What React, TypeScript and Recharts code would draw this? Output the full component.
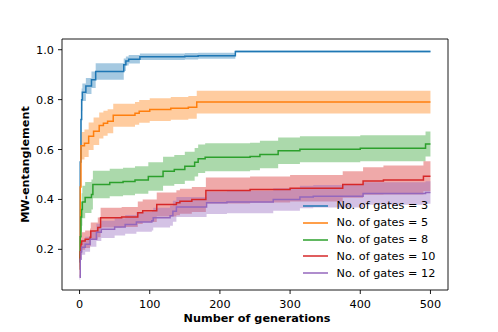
import React from 'react';
import { ComposedChart, Line, Area, XAxis, YAxis, ReferenceLine } from 'recharts';

// values: generation, mean, half-width of the shaded band
const gates3Gen = [0, 1, 2, 3, 4, 9, 17, 23, 63, 66, 70, 86, 150, 169, 222, 500];
const gates3Mean = [0.15, 0.55, 0.72, 0.8, 0.83, 0.855, 0.88, 0.913, 0.94, 0.955, 0.962, 0.972, 0.974, 0.976, 0.993, 0.993];
const gates3Spread = [0.03, 0.05, 0.05, 0.045, 0.035, 0.032, 0.033, 0.033, 0.025, 0.018, 0.017, 0.013, 0.013, 0.012, 0.004, 0.004];

const gates5Gen = [0, 1, 2, 7, 13, 20, 28, 34, 40, 48, 79, 85, 100, 130, 155, 167, 500];
const gates5Mean = [0.12, 0.45, 0.615, 0.625, 0.653, 0.673, 0.696, 0.705, 0.713, 0.737, 0.745, 0.753, 0.76, 0.765, 0.769, 0.79, 0.79];
const gates5Spread = [0.03, 0.05, 0.055, 0.055, 0.055, 0.055, 0.052, 0.05, 0.048, 0.046, 0.046, 0.046, 0.046, 0.046, 0.046, 0.046, 0.046];

const gates8Gen = [0, 1, 2, 3, 4, 8, 17, 19, 43, 62, 79, 98, 119, 135, 150, 164, 169, 179, 243, 257, 283, 314, 400, 493, 500];
const gates8Mean = [0.15, 0.25, 0.33, 0.36, 0.39, 0.408, 0.42, 0.46, 0.468, 0.472, 0.478, 0.492, 0.513, 0.52, 0.533, 0.549, 0.563, 0.569, 0.572, 0.58, 0.595, 0.601, 0.605, 0.622, 0.622];
const gates8Spread = [0.03, 0.05, 0.06, 0.065, 0.065, 0.062, 0.06, 0.055, 0.055, 0.055, 0.055, 0.057, 0.058, 0.058, 0.058, 0.057, 0.057, 0.056, 0.055, 0.055, 0.053, 0.052, 0.052, 0.05, 0.05];

const gates10Gen = [0, 1, 2, 3, 8, 15, 16, 26, 30, 60, 83, 90, 110, 138, 143, 160, 180, 243, 300, 375, 404, 433, 490, 500];
const gates10Mean = [0.15, 0.19, 0.22, 0.233, 0.24, 0.248, 0.273, 0.288, 0.327, 0.33, 0.347, 0.355, 0.38, 0.387, 0.393, 0.4, 0.436, 0.44, 0.445, 0.46, 0.474, 0.478, 0.493, 0.493];
const gates10Spread = [0.02, 0.03, 0.035, 0.035, 0.035, 0.035, 0.035, 0.04, 0.04, 0.04, 0.045, 0.045, 0.048, 0.05, 0.05, 0.05, 0.052, 0.052, 0.053, 0.053, 0.055, 0.058, 0.06, 0.06];

const gates12Gen = [0, 1, 2, 3, 8, 15, 24, 31, 50, 65, 81, 103, 105, 129, 133, 138, 181, 210, 276, 314, 333, 404, 493, 500];
const gates12Mean = [0.088, 0.16, 0.19, 0.208, 0.22, 0.24, 0.268, 0.28, 0.29, 0.3, 0.31, 0.315, 0.327, 0.335, 0.353, 0.37, 0.387, 0.39, 0.4, 0.41, 0.413, 0.424, 0.428, 0.428];
const gates12Spread = [0.01, 0.025, 0.03, 0.03, 0.03, 0.03, 0.035, 0.035, 0.035, 0.038, 0.04, 0.04, 0.04, 0.04, 0.042, 0.04, 0.045, 0.045, 0.045, 0.045, 0.045, 0.045, 0.045, 0.045];

const xTicks = [0, 100, 200, 300, 400, 500];
const yTicks = [0.2, 0.4, 0.6, 0.8, 1.0];

const rows = (gen: number[], mean: number[], spread: number[]) =>
  gen.map((g, i) => ({ gen: g, mean: mean[i], band: [mean[i] - spread[i], mean[i] + spread[i]] }));

const series = [
  { name: 'No. of gates = 3', color: '#1f77b4', data: rows(gates3Gen, gates3Mean, gates3Spread) },
  { name: 'No. of gates = 5', color: '#ff7f0e', data: rows(gates5Gen, gates5Mean, gates5Spread) },
  { name: 'No. of gates = 8', color: '#2ca02c', data: rows(gates8Gen, gates8Mean, gates8Spread) },
  { name: 'No. of gates = 10', color: '#d62728', data: rows(gates10Gen, gates10Mean, gates10Spread) },
  { name: 'No. of gates = 12', color: '#9467bd', data: rows(gates12Gen, gates12Mean, gates12Spread) },
];

const font = '"DejaVu Sans", sans-serif';
const fs = 11.25;
const tickStyle = { fontSize: fs, fill: '#000', fontFamily: font };

export default function App() {
  return (
    <div style={{ position: 'absolute', left: 0, top: 0, width: 498, height: 332, background: '#fff' }}>
      <ComposedChart width={498} height={332} margin={{ top: 39, right: 50, left: 0, bottom: 0 }}>
        <XAxis
          type="number"
          dataKey="gen"
          domain={[-25, 525]}
          ticks={xTicks}
          allowDataOverflow
          height={42}
          tickSize={4}
          tickMargin={6}
          tick={tickStyle}
          axisLine={{ stroke: '#000', strokeWidth: 0.9 }}
          tickLine={{ stroke: '#000', strokeWidth: 0.9 }}
          label={() => (
            <text x={257} y={322.3} textAnchor="middle" fontFamily={font} fontSize={fs} fontWeight="bold" fill="#000">
              Number of generations
            </text>
          )}
        />
        <YAxis
          type="number"
          domain={[0.037, 1.043]}
          ticks={yTicks}
          allowDataOverflow
          width={62}
          tickSize={4}
          tickMargin={4}
          tick={tickStyle}
          tickFormatter={(v: number) => v.toFixed(1)}
          axisLine={{ stroke: '#000', strokeWidth: 0.9 }}
          tickLine={{ stroke: '#000', strokeWidth: 0.9 }}
          label={() => (
            <text
              x={28.5}
              y={164.5}
              transform="rotate(-90 28.5 164.5)"
              textAnchor="middle"
              fontFamily={font}
              fontSize={fs}
              fontWeight="bold"
              fill="#000"
            >
              MW-entanglement
            </text>
          )}
        />
        <ReferenceLine x={525} stroke="#000" strokeWidth={0.9} />
        <ReferenceLine y={1.043} stroke="#000" strokeWidth={0.9} />
        {series.map((s) => (
          <Area
            key={'band' + s.name}
            data={s.data}
            dataKey="band"
            type="stepAfter"
            stroke="none"
            fill={s.color}
            fillOpacity={0.4}
            isAnimationActive={false}
          />
        ))}
        {series.map((s) => (
          <Line
            key={'line' + s.name}
            data={s.data}
            dataKey="mean"
            type="stepAfter"
            stroke={s.color}
            strokeWidth={1.5}
            dot={false}
            isAnimationActive={false}
          />
        ))}
      </ComposedChart>
      <div style={{ position: 'absolute', left: 303, top: 197.6, fontFamily: font, fontSize: fs, color: '#000' }}>
        {series.map((s) => (
          <div key={s.name} style={{ height: 16.8, display: 'flex', alignItems: 'center' }}>
            <svg width={25} height={4} style={{ marginRight: 8.5 }}>
              <line x1={0} y1={2} x2={25} y2={2} stroke={s.color} strokeWidth={1.5} />
            </svg>
            <span style={{ whiteSpace: 'pre' }}>{s.name}</span>
          </div>
        ))}
      </div>
    </div>
  );
}
